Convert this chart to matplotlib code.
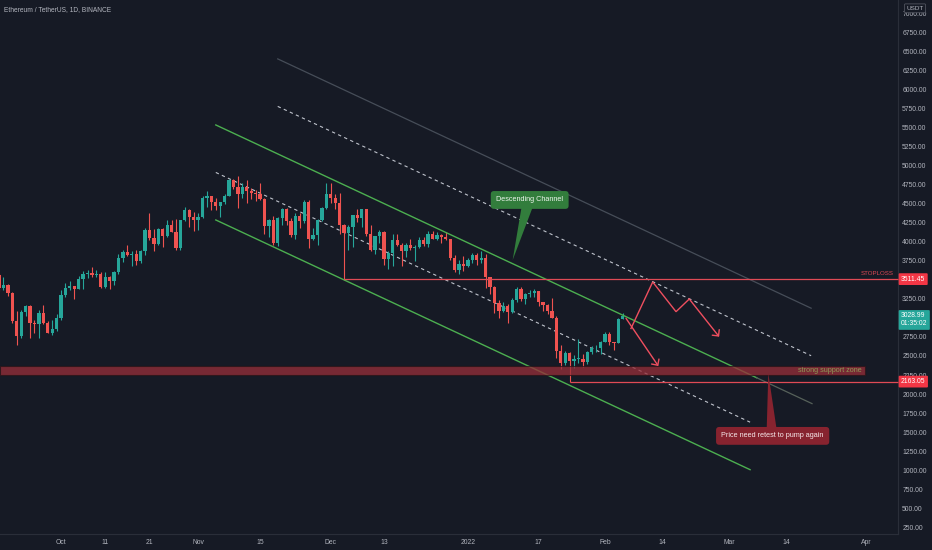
import matplotlib
matplotlib.use('Agg')
import matplotlib.pyplot as plt
import matplotlib.transforms as mtransforms
from matplotlib.patches import Rectangle, Polygon
import numpy as np
import pandas as pd

plt.rcParams['font.family'] = ['Liberation Sans', 'DejaVu Sans']

# ---------------- data (ETH/USDT daily) ----------------
start_date = '2021-09-17'
end_date = '2022-02-05'

closes = [
    3398, 3432, 3329, 2958, 2762, 3077, 3155, 2930, 2925, 3062, 2930, 2806, 2850, 3000,
    3308, 3389, 3415, 3385, 3515, 3579, 3589, 3561, 3575, 3413, 3543, 3488, 3605, 3789, 3866, 3829,
    3846, 3746, 3877, 4158, 4058, 3970, 4170, 4085, 4220, 4130, 3925, 4285, 4415, 4325, 4290,
    4325, 4585, 4605, 4530, 4475, 4520, 4610, 4810, 4730, 4635, 4720, 4665, 4645, 4625, 4560,
    4215, 4290, 3990, 4310, 4440, 4270, 4090, 4340, 4270, 4525, 4040, 4095, 4290, 4445, 4630,
    4585, 4510, 4225, 4115, 4200, 4355, 4310, 4430, 4110, 3895, 4075, 4135, 3780, 3860, 4020, 3965,
    3880, 3960, 3925, 3940, 4020, 3980, 4110, 4045, 4095, 4065, 4035, 3795, 3630, 3715, 3680,
    3765, 3830, 3760, 3795, 3540, 3410, 3195, 3090, 3155, 3080, 3240, 3375, 3250, 3310, 3330, 3350,
    3210, 3165, 3095, 3000, 2560, 2405, 2540, 2440, 2460, 2465, 2425, 2550, 2600, 2605, 2690,
    2790, 2680, 2665, 2990, 3029,
]
opens = [3568] + closes[:-1]
highs = [
    3590, 3540, 3445, 3345, 3097, 3100, 3170, 3172, 2970, 3110, 3170, 2955, 2970, 3050,
    3365, 3460, 3490, 3425, 3550, 3620, 3633, 3670, 3625, 3600, 3600, 3550, 3615, 3845, 3895, 3960,
    3880, 3890, 3890, 4190, 4375, 4165, 4180, 4185, 4290, 4295, 4305, 4295, 4460, 4435, 4390,
    4380, 4600, 4665, 4610, 4575, 4530, 4635, 4825, 4835, 4868, 4780, 4810, 4705, 4690, 4775,
    4575, 4300, 4345, 4330, 4450, 4445, 4315, 4375, 4375, 4550, 4550, 4180, 4300, 4460, 4780,
    4775, 4635, 4650, 4240, 4225, 4360, 4430, 4440, 4440, 4230, 4080, 4160, 4140, 3880, 4100, 4100,
    3990, 3985, 4045, 3960, 4065, 4060, 4140, 4145, 4130, 4105, 4125, 4040, 3825, 3765, 3815,
    3785, 3860, 3855, 3875, 3845, 3545, 3415, 3240, 3215, 3190, 3260, 3410, 3410, 3335, 3365, 3375,
    3360, 3215, 3190, 3265, 3020, 2640, 2560, 2550, 2510, 2725, 2530, 2560, 2625, 2645, 2700,
    2815, 2810, 2690, 3000, 3065,
]
lows = [
    3355, 3370, 3286, 2930, 2650, 2740, 3030, 2740, 2805, 2740, 2915, 2800, 2780, 2830,
    2970, 3280, 3370, 3255, 3375, 3380, 3530, 3540, 3540, 3400, 3395, 3380, 3430, 3585, 3740, 3820,
    3680, 3700, 3730, 3830, 4030, 3880, 3955, 3930, 4070, 4135, 3900, 3890, 4270, 4200, 4150,
    4160, 4320, 4455, 4420, 4420, 4330, 4505, 4600, 4700, 4450, 4580, 4510, 4560, 4540, 4550,
    4100, 4060, 3960, 3950, 4220, 4225, 4060, 4035, 4180, 4250, 3915, 4030, 3960, 4280, 4440,
    4510, 4430, 4100, 3500, 3900, 3935, 4265, 4200, 4080, 3880, 3840, 3990, 3700, 3640, 3690, 3950,
    3680, 3800, 3900, 3750, 3915, 3945, 3930, 4040, 4030, 3990, 4030, 3760, 3605, 3585, 3620,
    3675, 3720, 3695, 3725, 3400, 3310, 3060, 3000, 3075, 2930, 3060, 3215, 3230, 3180, 3280, 3280,
    3160, 3090, 3055, 2995, 2475, 2330, 2380, 2160, 2345, 2410, 2360, 2390, 2530, 2550, 2520,
    2680, 2645, 2585, 2665, 2990,
]

price_ticks = [250, 500, 750, 1000, 1250, 1500, 1750, 2000, 2250, 2500, 2750, 3000, 3250, 3500,
               3750, 4000, 4250, 4500, 4750, 5000, 5250, 5500, 5750, 6000, 6250, 6500, 6750, 7000]
hidden_ticks = [3000, 3500]   # covered by the price boxes in the reference
date_ticks = ['2021-10-01', '2021-10-11', '2021-10-21', '2021-11-01', '2021-11-15', '2021-12-01',
              '2021-12-13', '2022-01-01', '2022-01-17', '2022-02-01', '2022-02-14', '2022-03-01',
              '2022-03-14', '2022-04-01']
date_labels = ['Oct', '11', '21', 'Nov', '15', 'Dec', '13', '2022', '17', 'Feb', '14', 'Mar', '14', 'Apr']

stoploss_price = 3511.45
support_price = 2163.05
last_price = 3028.99
zone_low, zone_high = 2250, 2372

# ---------------- styling ----------------
BG = '#161a25'
UP = '#26a69a'
DOWN = '#ef5350'
TXT = '#b2b5be'
RED_LINE = '#e04a55'
GREEN_LINE = '#4caf50'
FS = 4.9

ref = pd.Timestamp('2021-10-01')
dates = pd.date_range(start_date, end_date, freq='D')
days = np.array((dates - ref).days, dtype=float)
o = np.array(opens, float); h = np.array(highs, float)
l = np.array(lows, float); c = np.array(closes, float)

def dnum(s):
    return float((pd.Timestamp(s) - ref).days)

fig = plt.figure(figsize=(9.32, 5.5), dpi=100, facecolor=BG)
ax = fig.add_axes([0, 16 / 550, 898 / 932, 534 / 550])
ax.set_facecolor(BG)
XMIN, XMAX = -13.79, 189.24
ax.set_xlim(XMIN, XMAX)
ax.set_ylim(158, 7184)

for s in ['top', 'left']:
    ax.spines[s].set_visible(False)
for s in ['bottom', 'right']:
    ax.spines[s].set_color('#2a2e39')
    ax.spines[s].set_linewidth(0.8)

ax.yaxis.tick_right()
ax.set_yticks(price_ticks)
ax.set_yticklabels(['' if v in hidden_ticks else f'{v:.2f}' for v in price_ticks])
ax.set_xticks([dnum(d) for d in date_ticks])
ax.set_xticklabels(date_labels)
ax.tick_params(axis='both', length=0, colors=TXT, labelsize=FS)
ax.tick_params(axis='y', pad=3)
ax.tick_params(axis='x', pad=3.5)

# ---------------- candles ----------------
up = c >= o
cols = np.where(up, UP, DOWN)
ax.vlines(days, l, h, colors=cols, linewidth=0.8, zorder=3)
body_lo = np.minimum(o, c)
body_h = np.maximum(np.abs(c - o), 10)
ax.bar(days, body_h, bottom=body_lo, width=0.74, color=cols, linewidth=0, zorder=4)

# ---------------- channel drawings ----------------
chan_day, chan_price, chan_slope = 35.0, 5540.0, -27.2
def chan(offset, d):
    return chan_price + offset + chan_slope * (np.asarray(d) - chan_day)

def seg(offset, d0, d1, **kw):
    ax.plot([d0, d1], [chan(offset, d0), chan(offset, d1)], **kw)

seg(1250, 49, 169.6, color='#464d58', lw=0.9, zorder=2)
seg(625, 49, 169.6, color='#bfc3cc', lw=0.8, ls=(0, (3, 3)), zorder=2)
seg(0, 35, 157.3, color=GREEN_LINE, lw=1.0, zorder=5)
seg(0, 157.3, 169.8, color='#56615a', lw=0.9, zorder=5)
seg(-625, 35, 155.8, color='#bfc3cc', lw=0.8, ls=(0, (3, 3)), zorder=2)
seg(-1250, 35, 155.8, color=GREEN_LINE, lw=1.0, zorder=5)

# support zone
ax.add_patch(Rectangle((XMIN, zone_low), 181.8 - XMIN, zone_high - zone_low,
                       facecolor='#962f3a', alpha=0.76, edgecolor='#2a1418', lw=0.8, zorder=6))
ax.text(181.1, (zone_low + zone_high) / 2, 'strong support zone', ha='right', va='center',
        fontsize=5.2, color='#8e9a55', zorder=7)

# horizontal levels
ax.hlines(stoploss_price, dnum('2021-12-04'), XMAX, colors=RED_LINE, lw=0.9, zorder=6, clip_on=False)
ax.hlines(support_price, dnum('2022-01-24'), XMAX, colors=RED_LINE, lw=0.9, zorder=6, clip_on=False)
ax.text(188.3, 3592, 'STOPLOSS', ha='right', va='center', fontsize=4.4, color=RED_LINE, zorder=7)

# projection arrows
ARROW = '#ef4f5f'
path1_d = [128.87, 133.78, 139.05, 142.05]
path1_p = [2862, 3474, 3083, 3250]
ax.plot(path1_d, path1_p, color=ARROW, lw=1.0, zorder=8, solid_joinstyle='miter')
ax.annotate('', xy=(148.8, 2754), xytext=(142.05, 3250),
            arrowprops=dict(arrowstyle='->,head_length=0.32,head_width=0.32', color=ARROW,
                            lw=1.0, shrinkA=0, shrinkB=0), zorder=8)
ax.annotate('', xy=(135.05, 2368), xytext=(127.74, 2996),
            arrowprops=dict(arrowstyle='->,head_length=0.32,head_width=0.32', color=ARROW,
                            lw=1.0, shrinkA=0, shrinkB=0), zorder=8)

# callouts
G_CALL = '#327d3c'
R_CALL = '#87232f'
ax.add_patch(Polygon([(104.16, 4470), (106.72, 4470), (102.12, 3763)], closed=True,
                     facecolor=G_CALL, edgecolor='none', zorder=9))
ax.text(105.97, 4553, 'Descending Channel', ha='center', va='center', fontsize=5.2,
        color='#eef6ee', zorder=10,
        bbox=dict(boxstyle='round,pad=0.75,rounding_size=0.45', fc=G_CALL, ec='none'))
ax.add_patch(Polygon([(159.55, 1530), (161.81, 1530), (159.92, 2272)], closed=True,
                     facecolor=R_CALL, edgecolor='none', zorder=9))
ax.text(160.9, 1449, 'Price need retest to pump again', ha='center', va='center', fontsize=5.2,
        color='#f6e8ea', zorder=10,
        bbox=dict(boxstyle='round,pad=0.75,rounding_size=0.45', fc=R_CALL, ec='none'))

# price-axis labels
blend = mtransforms.blended_transform_factory(ax.transAxes, ax.transData)
def price_box(text, price, fc, dy=0):
    ax.annotate(text, xy=(1.0, price), xycoords=blend, xytext=(2.2, dy), textcoords='offset points',
                ha='left', va='center', fontsize=FS, color='white', zorder=20,
                annotation_clip=False, linespacing=1.2,
                bbox=dict(boxstyle='round,pad=0.35,rounding_size=0.15', fc=fc, ec='none'))

price_box(f'{stoploss_price:.2f}', stoploss_price, '#f23645')
price_box(f'{last_price:.2f}\n01:35:02', last_price, UP, dy=-3)
price_box(f'{support_price:.2f}', support_price, '#f23645')

fig.text(915 / 932, 1 - 8.3 / 550, 'USDT', ha='center', va='center', fontsize=4.6, color=TXT,
         bbox=dict(boxstyle='round,pad=0.3,rounding_size=0.15', fc=BG, ec='#50535e', lw=0.6))
fig.text(4 / 932, 1 - 9.3 / 550, 'Ethereum / TetherUS, 1D, BINANCE', ha='left', va='center',
         fontsize=4.8, color=TXT)

fig.savefig('out.png', dpi=100, facecolor=BG)
